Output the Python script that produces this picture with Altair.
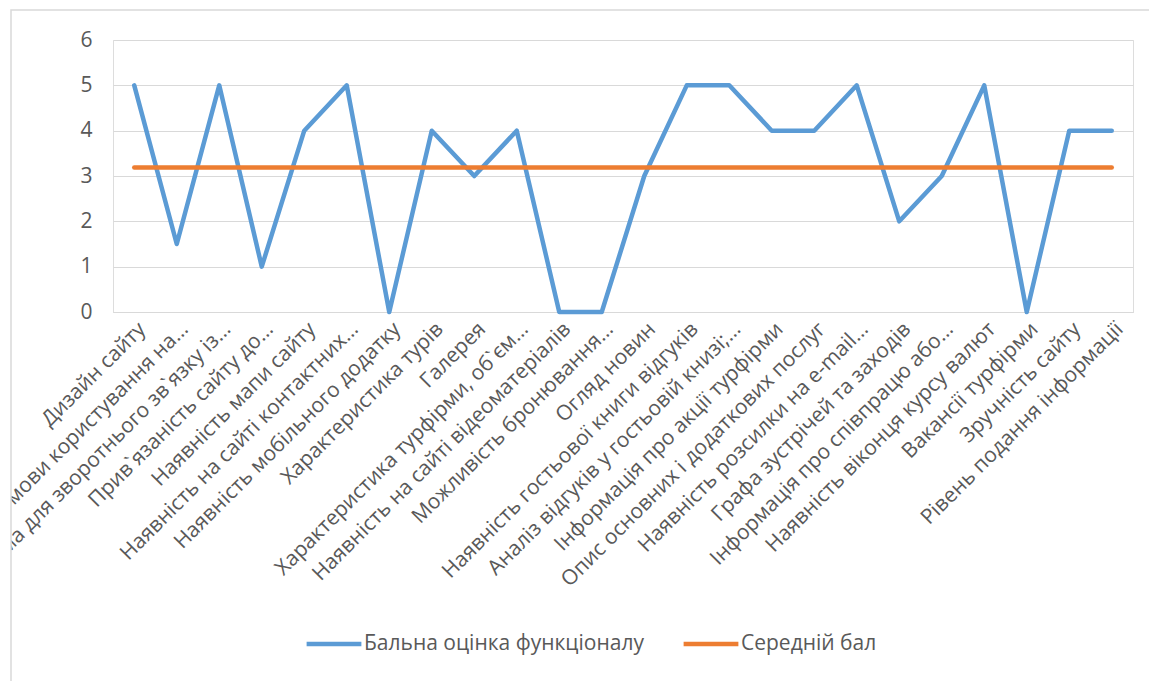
import altair as alt
import pandas as pd

# Criteria of the tour-operator website assessment, in axis order
categories = [
    "Дизайн сайту",
    "Можливість вибору мови користування на…",
    "Форма для зворотнього зв`язку із…",
    "Прив`язаність сайту до…",
    "Наявність мапи сайту",
    "Наявність на сайті контактних…",
    "Наявність мобільного додатку",
    "Характеристика турів",
    "Галерея",
    "Характеристика турфірми, об`єм…",
    "Наявність на сайті відеоматеріалів",
    "Можливість бронювання…",
    "Огляд новин",
    "Наявність гостьової книги відгуків",
    "Аналіз відгуків у гостьовій книзі;…",
    "Інформація про акції турфірми",
    "Опис основних і додаткових послуг",
    "Наявність розсилки на e-mail…",
    "Графа зустрічей та заходів",
    "Інформація про співпрацю або…",
    "Наявність віконця курсу валют",
    "Вакансії турфірми",
    "Зручність сайту",
    "Рівень подання інформації",
]

# Score for each criterion
scores = [5, 1.5, 5, 1, 4, 5, 0, 4, 3, 4, 0, 0, 3, 5, 5, 4, 4, 5, 2, 3, 5, 0, 4, 4]

# Average score, drawn as a flat reference line
average = [3.19] * len(categories)

series_names = ["Бальна оцінка функціоналу", "Середній бал"]
series_colors = ["#5b9bd5", "#ed7d31"]

df = pd.concat([
    pd.DataFrame({"Критерій": categories, "Бал": scores, "Ряд": series_names[0]}),
    pd.DataFrame({"Критерій": categories, "Бал": average, "Ряд": series_names[1]}),
])

FONT = "Open Sans"
SIZE = 21
TEXT = "#595959"
GRID = "#d9d9d9"

lines = alt.Chart(df).mark_line(
    strokeWidth=4.5, strokeCap="round", strokeJoin="round"
).encode(
    x=alt.X(
        "Критерій:N",
        sort=categories,
        title=None,
        axis=alt.Axis(
            labelAngle=-45,
            labelAlign="right",
            labelBaseline="top",
            labelPadding=6,
            labelLimit=1000,
            labelFont=FONT,
            labelFontSize=SIZE,
            labelColor=TEXT,
            ticks=False,
            domainColor=GRID,
            domainWidth=1,
            grid=False,
        ),
    ),
    y=alt.Y(
        "Бал:Q",
        scale=alt.Scale(domain=[0, 6]),
        title=None,
        axis=alt.Axis(
            values=[0, 1, 2, 3, 4, 5, 6],
            ticks=False,
            domain=False,
            gridColor=GRID,
            gridWidth=1,
            labelFont=FONT,
            labelFontSize=SIZE,
            labelColor=TEXT,
            labelPadding=21,
        ),
    ),
    color=alt.Color(
        "Ряд:N",
        scale=alt.Scale(domain=series_names, range=series_colors),
        legend=alt.Legend(
            title=None,
            orient="none",
            direction="horizontal",
            legendX=191,
            legendY=574,
            padding=0,
            symbolType="stroke",
            symbolSize=3000,
            symbolStrokeWidth=4.5,
            labelFont=FONT,
            labelFontSize=SIZE,
            labelColor=TEXT,
            labelLimit=1000,
            labelOffset=0,
            columnPadding=30,
        ),
    ),
)

frame_data = pd.DataFrame({"k": [0]})

# White strip left of the chart frame, hiding label text outside it
mask = alt.Chart(frame_data).mark_rect(fill="white", stroke=None).encode(
    x=alt.value(-113), x2=alt.value(-102), y=alt.value(-40), y2=alt.value(700)
)

# Light grey chart-area frame
frame = alt.Chart(frame_data).mark_rect(
    fill="transparent", stroke=GRID, strokeWidth=1.5
).encode(
    x=alt.value(-102), x2=alt.value(1100), y=alt.value(-30), y2=alt.value(700)
)

chart = alt.layer(lines, mask, frame).properties(
    width=1020,
    height=272,
    autosize=alt.AutoSizeParams(type="none"),
    padding={"left": 113, "top": 40, "right": 16, "bottom": 369},
).configure_view(stroke=None).configure(background="white")

chart.save("out.html", embed_options={"renderer": "svg", "actions": False})
